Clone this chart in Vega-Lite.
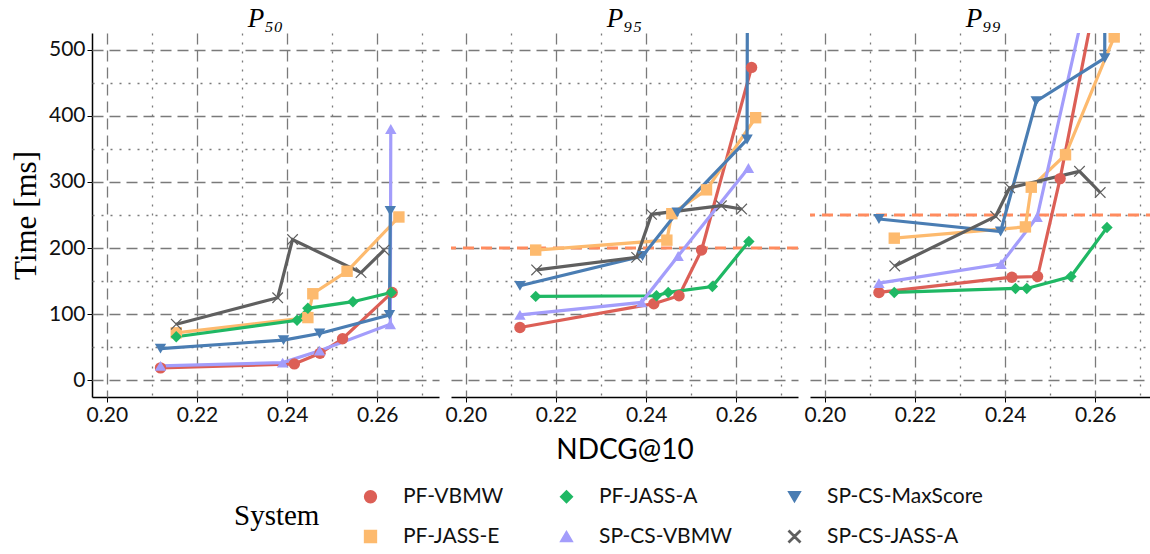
{
  "$schema": "https://vega.github.io/schema/vega-lite/v6.json",
  "background": "white",
  "padding": {"left": 10, "right": 0, "top": 5, "bottom": 0},
  "config": {
    "view": {"stroke": null},
    "axis": {
      "labelFont": "Lato", "labelFontSize": 21, "labelColor": "#111",
      "domainColor": "#000", "domainWidth": 1.5,
      "tickColor": "#000", "gridColor": "#7a7a7a", "gridWidth": 1.3
    }
  },
  "data": {"values": [
    {"p":"P₅₀","s":"PF-VBMW","ndcg":0.2119,"time":19,"k":1},
    {"p":"P₅₀","s":"PF-VBMW","ndcg":0.2416,"time":25,"k":2},
    {"p":"P₅₀","s":"PF-VBMW","ndcg":0.2473,"time":41,"k":3},
    {"p":"P₅₀","s":"PF-VBMW","ndcg":0.2523,"time":63,"k":4},
    {"p":"P₅₀","s":"PF-VBMW","ndcg":0.2633,"time":133,"k":5},
    {"p":"P₅₀","s":"PF-JASS-E","ndcg":0.2154,"time":72,"k":1},
    {"p":"P₅₀","s":"PF-JASS-E","ndcg":0.2446,"time":95,"k":2},
    {"p":"P₅₀","s":"PF-JASS-E","ndcg":0.2457,"time":131,"k":3},
    {"p":"P₅₀","s":"PF-JASS-E","ndcg":0.2533,"time":165,"k":4},
    {"p":"P₅₀","s":"PF-JASS-E","ndcg":0.2648,"time":247,"k":5},
    {"p":"P₅₀","s":"PF-JASS-A","ndcg":0.2154,"time":66,"k":1},
    {"p":"P₅₀","s":"PF-JASS-A","ndcg":0.2422,"time":91,"k":2},
    {"p":"P₅₀","s":"PF-JASS-A","ndcg":0.2446,"time":109,"k":3},
    {"p":"P₅₀","s":"PF-JASS-A","ndcg":0.2546,"time":119,"k":4},
    {"p":"P₅₀","s":"PF-JASS-A","ndcg":0.2631,"time":133,"k":5},
    {"p":"P₅₀","s":"SP-CS-VBMW","ndcg":0.2119,"time":22,"k":1},
    {"p":"P₅₀","s":"SP-CS-VBMW","ndcg":0.2390,"time":27,"k":2},
    {"p":"P₅₀","s":"SP-CS-VBMW","ndcg":0.2472,"time":45,"k":3},
    {"p":"P₅₀","s":"SP-CS-VBMW","ndcg":0.2629,"time":85,"k":4},
    {"p":"P₅₀","s":"SP-CS-VBMW","ndcg":0.2630,"time":380,"k":5},
    {"p":"P₅₀","s":"SP-CS-MaxScore","ndcg":0.2119,"time":48,"k":1},
    {"p":"P₅₀","s":"SP-CS-MaxScore","ndcg":0.2392,"time":61,"k":2},
    {"p":"P₅₀","s":"SP-CS-MaxScore","ndcg":0.2472,"time":71,"k":3},
    {"p":"P₅₀","s":"SP-CS-MaxScore","ndcg":0.2627,"time":99,"k":4},
    {"p":"P₅₀","s":"SP-CS-MaxScore","ndcg":0.2629,"time":256,"k":5},
    {"p":"P₅₀","s":"SP-CS-JASS-A","ndcg":0.2154,"time":85,"k":1},
    {"p":"P₅₀","s":"SP-CS-JASS-A","ndcg":0.2379,"time":125,"k":2},
    {"p":"P₅₀","s":"SP-CS-JASS-A","ndcg":0.2412,"time":213,"k":3},
    {"p":"P₅₀","s":"SP-CS-JASS-A","ndcg":0.2564,"time":163,"k":4},
    {"p":"P₅₀","s":"SP-CS-JASS-A","ndcg":0.2615,"time":197,"k":5},

    {"p":"P₉₅","s":"PF-VBMW","ndcg":0.2120,"time":80,"k":1},
    {"p":"P₉₅","s":"PF-VBMW","ndcg":0.2417,"time":116,"k":2},
    {"p":"P₉₅","s":"PF-VBMW","ndcg":0.2473,"time":128,"k":3},
    {"p":"P₉₅","s":"PF-VBMW","ndcg":0.2523,"time":197,"k":4},
    {"p":"P₉₅","s":"PF-VBMW","ndcg":0.2634,"time":473,"k":5},
    {"p":"P₉₅","s":"PF-JASS-E","ndcg":0.2155,"time":197,"k":1},
    {"p":"P₉₅","s":"PF-JASS-E","ndcg":0.2446,"time":212,"k":2},
    {"p":"P₉₅","s":"PF-JASS-E","ndcg":0.2457,"time":252,"k":3},
    {"p":"P₉₅","s":"PF-JASS-E","ndcg":0.2534,"time":288,"k":4},
    {"p":"P₉₅","s":"PF-JASS-E","ndcg":0.2643,"time":397,"k":5},
    {"p":"P₉₅","s":"PF-JASS-A","ndcg":0.2155,"time":127,"k":1},
    {"p":"P₉₅","s":"PF-JASS-A","ndcg":0.2423,"time":128,"k":2},
    {"p":"P₉₅","s":"PF-JASS-A","ndcg":0.2449,"time":133,"k":3},
    {"p":"P₉₅","s":"PF-JASS-A","ndcg":0.2547,"time":142,"k":4},
    {"p":"P₉₅","s":"PF-JASS-A","ndcg":0.2628,"time":210,"k":5},
    {"p":"P₉₅","s":"SP-CS-VBMW","ndcg":0.2120,"time":99,"k":1},
    {"p":"P₉₅","s":"SP-CS-VBMW","ndcg":0.2390,"time":118,"k":2},
    {"p":"P₉₅","s":"SP-CS-VBMW","ndcg":0.2471,"time":188,"k":3},
    {"p":"P₉₅","s":"SP-CS-VBMW","ndcg":0.2627,"time":321,"k":4},
    {"p":"P₉₅","s":"SP-CS-MaxScore","ndcg":0.2120,"time":143,"k":1},
    {"p":"P₉₅","s":"SP-CS-MaxScore","ndcg":0.2392,"time":188,"k":2},
    {"p":"P₉₅","s":"SP-CS-MaxScore","ndcg":0.2469,"time":254,"k":3},
    {"p":"P₉₅","s":"SP-CS-MaxScore","ndcg":0.2624,"time":364,"k":4},
    {"p":"P₉₅","s":"SP-CS-MaxScore","ndcg":0.2625,"time":700,"k":5},
    {"p":"P₉₅","s":"SP-CS-JASS-A","ndcg":0.2157,"time":167,"k":1},
    {"p":"P₉₅","s":"SP-CS-JASS-A","ndcg":0.2379,"time":186,"k":2},
    {"p":"P₉₅","s":"SP-CS-JASS-A","ndcg":0.2412,"time":251,"k":3},
    {"p":"P₉₅","s":"SP-CS-JASS-A","ndcg":0.2567,"time":264,"k":4},
    {"p":"P₉₅","s":"SP-CS-JASS-A","ndcg":0.2612,"time":259,"k":5},

    {"p":"P₉₉","s":"PF-VBMW","ndcg":0.2120,"time":133,"k":1},
    {"p":"P₉₉","s":"PF-VBMW","ndcg":0.2415,"time":156,"k":2},
    {"p":"P₉₉","s":"PF-VBMW","ndcg":0.2472,"time":157,"k":3},
    {"p":"P₉₉","s":"PF-VBMW","ndcg":0.2522,"time":305,"k":4},
    {"p":"P₉₉","s":"PF-VBMW","ndcg":0.2633,"time":690,"k":5},
    {"p":"P₉₉","s":"PF-JASS-E","ndcg":0.2154,"time":215,"k":1},
    {"p":"P₉₉","s":"PF-JASS-E","ndcg":0.2445,"time":232,"k":2},
    {"p":"P₉₉","s":"PF-JASS-E","ndcg":0.2458,"time":292,"k":3},
    {"p":"P₉₉","s":"PF-JASS-E","ndcg":0.2534,"time":341,"k":4},
    {"p":"P₉₉","s":"PF-JASS-E","ndcg":0.2642,"time":519,"k":5},
    {"p":"P₉₉","s":"PF-JASS-A","ndcg":0.2154,"time":133,"k":1},
    {"p":"P₉₉","s":"PF-JASS-A","ndcg":0.2423,"time":139,"k":2},
    {"p":"P₉₉","s":"PF-JASS-A","ndcg":0.2448,"time":139,"k":3},
    {"p":"P₉₉","s":"PF-JASS-A","ndcg":0.2546,"time":157,"k":4},
    {"p":"P₉₉","s":"PF-JASS-A","ndcg":0.2626,"time":231,"k":5},
    {"p":"P₉₉","s":"SP-CS-VBMW","ndcg":0.2120,"time":147,"k":1},
    {"p":"P₉₉","s":"SP-CS-VBMW","ndcg":0.2391,"time":176,"k":2},
    {"p":"P₉₉","s":"SP-CS-VBMW","ndcg":0.2471,"time":247,"k":3},
    {"p":"P₉₉","s":"SP-CS-VBMW","ndcg":0.2627,"time":720,"k":4},
    {"p":"P₉₉","s":"SP-CS-MaxScore","ndcg":0.2120,"time":244,"k":1},
    {"p":"P₉₉","s":"SP-CS-MaxScore","ndcg":0.2390,"time":225,"k":2},
    {"p":"P₉₉","s":"SP-CS-MaxScore","ndcg":0.2469,"time":422,"k":3},
    {"p":"P₉₉","s":"SP-CS-MaxScore","ndcg":0.2621,"time":487,"k":4},
    {"p":"P₉₉","s":"SP-CS-MaxScore","ndcg":0.2622,"time":850,"k":5},
    {"p":"P₉₉","s":"SP-CS-JASS-A","ndcg":0.2155,"time":173,"k":1},
    {"p":"P₉₉","s":"SP-CS-JASS-A","ndcg":0.2379,"time":248,"k":2},
    {"p":"P₉₉","s":"SP-CS-JASS-A","ndcg":0.2410,"time":291,"k":3},
    {"p":"P₉₉","s":"SP-CS-JASS-A","ndcg":0.2565,"time":316,"k":4},
    {"p":"P₉₉","s":"SP-CS-JASS-A","ndcg":0.2611,"time":284,"k":5},

    {"p":"P₉₅","kind":"budget","time":200},
    {"p":"P₉₉","kind":"budget","time":250}
  ]},
  "facet": {
    "column": {
      "field": "p", "type": "nominal", "sort": ["P₅₀","P₉₅","P₉₉"],
      "title": "NDCG@10",
      "header": {
        "labelOrient": "top", "titleOrient": "bottom",
        "labelFont": "Liberation Serif", "labelFontStyle": "italic", "labelFontWeight": "normal", "labelFontSize": 27, "labelColor": "#000", "labelPadding": 0,
        "titleFont": "Lato", "titleFontSize": 28, "titleFontWeight": "normal", "titleColor": "#000", "titlePadding": 2
      }
    }
  },
  "spacing": 8,
  "spec": {
    "width": 347,
    "height": 364,
    "encoding": {
      "x": {
        "field": "ndcg", "type": "quantitative",
        "scale": {"domain": [0.1967, 0.2737], "nice": false, "zero": false},
        "axis": {
          "title": null, "values": [0.20,0.21,0.22,0.23,0.24,0.25,0.26,0.27], "format": ".2f",
          "labelExpr": "round(datum.value*100) % 2 === 0 ? datum.label : ''",
          "gridDash": {"condition": {"test": "round(datum.value*100) % 2 === 0", "value": [11, 6]}, "value": [2, 7]},
          "tickOpacity": {"condition": {"test": "round(datum.value*100) % 2 === 0", "value": 1}, "value": 0},
          "tickSize": 5, "labelPadding": 2
        }
      },
      "y": {
        "field": "time", "type": "quantitative",
        "scale": {"domain": [-25, 525], "nice": false, "zero": false},
        "axis": {
          "title": "Time [ms]", "titleFont": "Liberation Serif", "titleFontSize": 31, "titleFontWeight": "normal", "titleColor": "#000",
          "values": [0,50,100,150,200,250,300,350,400,450,500],
          "labelExpr": "datum.value % 100 === 0 ? datum.label : ''",
          "gridDash": {"condition": {"test": "datum.value % 100 === 0", "value": [11, 6]}, "value": [2, 7]},
          "tickOpacity": {"condition": {"test": "datum.value % 100 === 0", "value": 1}, "value": 0},
          "tickSize": 5, "labelPadding": 2, "titlePadding": 6
        }
      }
    },
    "layer": [
      {
        "transform": [{"filter": "datum.kind === 'budget'"}],
        "mark": {"type": "rule", "color": "#FF8B5E", "strokeWidth": 3, "strokeDash": [11, 7]},
        "encoding": {"x": null}
      },
      {
        "transform": [{"filter": "isValid(datum.s)"}],
        "mark": {"type": "line", "strokeWidth": 3.2, "clip": true},
        "encoding": {
          "color": {"field": "s", "type": "nominal", "title": "System",
            "scale": {"domain": ["PF-VBMW","PF-JASS-A","SP-CS-MaxScore","PF-JASS-E","SP-CS-VBMW","SP-CS-JASS-A"],
                      "range": ["#DC5F56","#1FB864","#4A7DB3","#FDBA6E","#A39DFB","#5F5F5F"]}},
          "order": {"field": "k", "type": "quantitative"}
        }
      },
      {
        "transform": [{"filter": "isValid(datum.s)"}],
        "mark": {"type": "point", "filled": true, "opacity": 1, "size": 130, "clip": true},
        "encoding": {
          "color": {"field": "s", "type": "nominal", "title": "System",
            "scale": {"domain": ["PF-VBMW","PF-JASS-A","SP-CS-MaxScore","PF-JASS-E","SP-CS-VBMW","SP-CS-JASS-A"],
                      "range": ["#DC5F56","#1FB864","#4A7DB3","#FDBA6E","#A39DFB","#5F5F5F"]},
            "legend": {
              "orient": "none", "legendX": 142, "legendY": 453, "direction": "horizontal", "columns": 3,
              "titleOrient": "left", "titleAnchor": "middle", "titleFont": "Liberation Serif", "titleFontSize": 29, "titleFontWeight": "normal", "titleColor": "#000",
              "labelFont": "Lato", "labelFontSize": 21, "labelColor": "#111",
              "symbolSize": 140, "symbolType": "circle", "rowPadding": 18, "columnPadding": 52, "labelOffset": 22, "titlePadding": 40,
              "encode": {"symbols": {"shape": {"value": {"expr": "datum.value === 'PF-VBMW' ? 'M-2.6,-0.2H2.6V0.2H-2.6Z M0.9,0A0.9,0.9,0,1,1,-0.9,0A0.9,0.9,0,1,1,0.9,0Z' : datum.value === 'PF-JASS-E' ? 'M-2.6,-0.2H2.6V0.2H-2.6Z M-0.8,-0.8H0.8V0.8H-0.8Z' : datum.value === 'PF-JASS-A' ? 'M-2.6,-0.2H2.6V0.2H-2.6Z M0,-1L0.75,0L0,1L-0.75,0Z' : datum.value === 'SP-CS-VBMW' ? 'M-2.6,-0.2H2.6V0.2H-2.6Z M0.95,0.75L-0.95,0.75L0,-0.95Z' : datum.value === 'SP-CS-MaxScore' ? 'M-2.6,-0.2H2.6V0.2H-2.6Z M-0.95,-0.75L0.95,-0.75L0,0.95Z' : 'M-2.6,-0.2H2.6V0.2H-2.6Z M-0.85,-0.7L-0.7,-0.85L0,-0.15L0.7,-0.85L0.85,-0.7L0.15,0L0.85,0.7L0.7,0.85L0,0.15L-0.7,0.85L-0.85,0.7L-0.15,0Z'"}}}}
            }
          },
          "shape": {"field": "s", "type": "nominal", "legend": null,
            "scale": {"domain": ["PF-VBMW","PF-JASS-A","SP-CS-MaxScore","PF-JASS-E","SP-CS-VBMW","SP-CS-JASS-A"],
                      "range": ["circle","diamond","triangle-down","square","triangle-up","M-1,-0.85L-0.85,-1L0,-0.15L0.85,-1L1,-0.85L0.15,0L1,0.85L0.85,1L0,0.15L-0.85,1L-1,0.85L-0.15,0Z"]}
          }
        }
      }
    ]
  }
}
